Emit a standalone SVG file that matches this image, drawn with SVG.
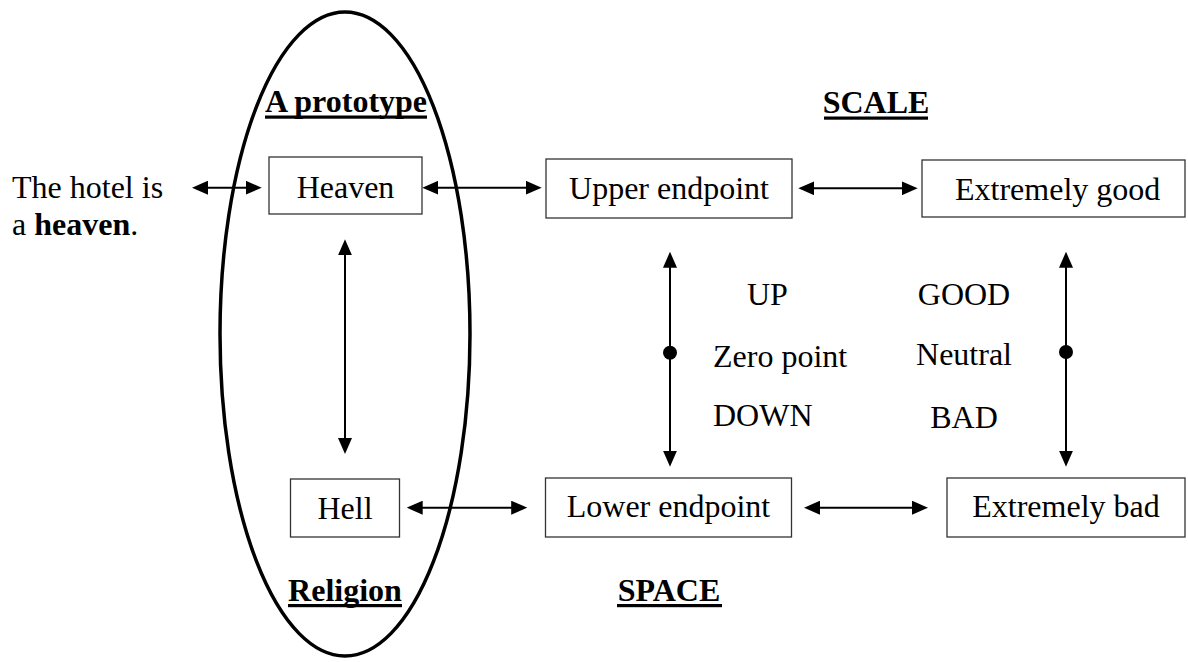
<svg xmlns="http://www.w3.org/2000/svg" width="1188" height="662" viewBox="0 0 1188 662">
  <style>
    text { font-family: "Liberation Serif", "Times New Roman", serif; font-size: 32px; fill: #000; }
    .b { font-weight: bold; }
    .box { fill: #fff; stroke: #333; stroke-width: 1.3; }
    .mid { text-anchor: middle; }
    .link { stroke: #000; stroke-width: 2; fill: none; marker-start: url(#head); marker-end: url(#head); }
    .ul { fill: #000; }
  </style>
  <defs>
    <marker id="head" viewBox="0 0 16 14" markerUnits="userSpaceOnUse" markerWidth="16" markerHeight="14" refX="8" refY="7" orient="auto-start-reverse">
      <path d="M0,0 L16,7 L0,14 z" fill="#000"/>
    </marker>
  </defs>
  <rect width="1188" height="662" fill="#fff"/>

  <!-- religion domain outline -->
  <ellipse id="religion-domain" cx="345" cy="334" rx="125" ry="322" fill="none" stroke="#000" stroke-width="3.5"/>

  <!-- headings -->
  <g id="headings">
    <text class="b mid" x="346" y="112">A prototype</text>
    <rect class="ul" x="265" y="115.5" width="162" height="3.2"/>
    <text class="b mid" x="876" y="113">SCALE</text>
    <rect class="ul" x="824" y="116.5" width="104" height="3.2"/>
    <text class="b mid" x="345" y="601">Religion</text>
    <rect class="ul" x="288" y="604" width="114" height="3.2"/>
    <text class="b mid" x="669" y="601">SPACE</text>
    <rect class="ul" x="617" y="604" width="105" height="3.2"/>
  </g>

  <!-- example sentence -->
  <g id="sentence">
    <text x="12" y="198">The hotel is</text>
    <text x="12" y="235">a <tspan class="b">heaven</tspan>.</text>
  </g>

  <!-- nodes -->
  <g id="heaven">
    <rect class="box" x="269" y="157" width="153" height="57"/>
    <text class="mid" x="345.5" y="198">Heaven</text>
  </g>
  <g id="upper-endpoint">
    <rect class="box" x="546" y="159" width="246" height="59"/>
    <text class="mid" x="669" y="199">Upper endpoint</text>
  </g>
  <g id="extremely-good">
    <rect class="box" x="922" y="160" width="263" height="57"/>
    <text x="955" y="200">Extremely good</text>
  </g>
  <g id="hell">
    <rect class="box" x="290.5" y="479" width="109" height="58"/>
    <text class="mid" x="345" y="519">Hell</text>
  </g>
  <g id="lower-endpoint">
    <rect class="box" x="545.5" y="478" width="246" height="59"/>
    <text class="mid" x="668.5" y="517">Lower endpoint</text>
  </g>
  <g id="extremely-bad">
    <rect class="box" x="947" y="478" width="238" height="59"/>
    <text class="mid" x="1066" y="517">Extremely bad</text>
  </g>

  <!-- scale labels -->
  <g id="scale-labels">
    <text x="747" y="305">UP</text>
    <text x="713" y="367">Zero point</text>
    <text x="713" y="426">DOWN</text>
    <text class="mid" x="964" y="305">GOOD</text>
    <text class="mid" x="964" y="365">Neutral</text>
    <text class="mid" x="964" y="428">BAD</text>
  </g>

  <!-- connectors -->
  <g id="connectors">
    <line class="link" x1="200" y1="187.7" x2="253.7" y2="187.7"/>
    <line class="link" x1="430.3" y1="187.7" x2="533.7" y2="187.7"/>
    <line class="link" x1="806.3" y1="188.3" x2="909.7" y2="188.3"/>
    <line class="link" x1="414.7" y1="507.7" x2="519.2" y2="507.7"/>
    <line class="link" x1="812" y1="507.7" x2="920" y2="507.7"/>
    <line class="link" x1="345" y1="247.3" x2="345" y2="446"/>
    <line class="link" x1="670" y1="259.7" x2="670" y2="458.7"/>
    <line class="link" x1="1066" y1="259.7" x2="1066" y2="458.7"/>
    <circle cx="670" cy="352.7" r="7" fill="#000"/>
    <circle cx="1066" cy="352" r="7" fill="#000"/>
  </g>
</svg>
